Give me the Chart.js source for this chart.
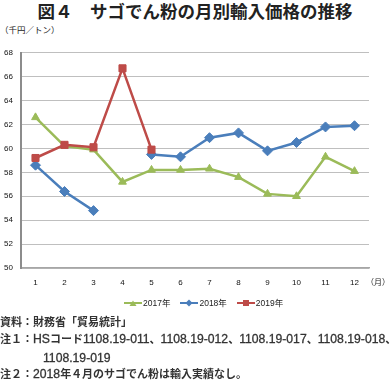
<!DOCTYPE html>
<html>
<head>
<meta charset="utf-8">
<script src="https://cdn.jsdelivr.net/npm/chart.js@4"></script>
<style>
  html, body { margin: 0; padding: 0; background: #fff; }
  body { width: 390px; height: 384px; position: relative; overflow: hidden;
         font-family: "Noto Sans CJK JP", "Noto Sans", sans-serif; color: #222; }
  #title { position: absolute; left: 0; top: 0; width: 390px; text-align: center;
           font-size: 17.5px; font-weight: bold; line-height: 21px; white-space: nowrap; }
  #unit { position: absolute; left: 0; top: 23px; font-size: 8.5px; line-height: 12px; }
  #month { position: absolute; left: 366px; top: 276px; font-size: 8px; line-height: 12px; white-space: nowrap; }
  #chart { position: absolute; left: 0; top: 40px; }
  #legend { position: absolute; left: 124px; top: 297px; display: flex; gap: 10px;
            font-family: "Liberation Sans", "Noto Sans CJK JP", sans-serif; font-size: 8.5px; line-height: 12px; }
  #legend span { display: flex; align-items: center; }
  #legend svg { margin-right: 1px; }
  .note { position: absolute; left: 0; font-family: "Liberation Sans", "Noto Sans CJK JP", sans-serif;
          font-size: 11px; line-height: 14px; white-space: nowrap; font-weight: bold; color: #333; }
  .note .lat { font-size: 12.2px; font-weight: normal; -webkit-text-stroke: 0.3px #333; }
</style>
</head>
<body>
<div id="title">図４　サゴでん粉の月別輸入価格の推移</div>
<div id="unit">（千円／トン）</div>
<canvas id="chart" width="390" height="252"></canvas>
<div id="month">（月）</div>
<div id="legend"></div>
<div class="note" style="top:315px">資料：財務省「貿易統計」</div>
<div class="note" style="top:332px">注１：<span class="lat">HS</span>コード<span class="lat">1108.19-011</span>、<span class="lat">1108.19-012</span>、<span class="lat">1108.19-017</span>、<span class="lat">1108.19-018</span>、</div>
<div class="note" style="top:351px;left:43px"><span class="lat">1108.19-019</span></div>
<div class="note" style="top:367px">注２：<span class="lat">2018</span>年４月のサゴでん粉は輸入実績なし。</div>

<script>
const months = ['1', '2', '3', '4', '5', '6', '7', '8', '9', '10', '11', '12'];
const price2017 = [62.6, 60.2, 59.9, 57.2, 58.2, 58.2, 58.3, 57.6, 56.2, 56.0, 59.3, 58.1];
const price2018 = [58.6, 56.4, 54.8, null, 59.5, 59.3, 60.9, 61.3, 59.8, 60.5, 61.8, 61.9];
const price2019 = [59.2, 60.3, 60.1, 66.7, 59.9, null, null, null, null, null, null, null];

const green = '#9bbb59';
const blue = '#4a7ebb';
const red = '#be4b48';

let series = [
   { label: '2017年', data: price2017, color: green, style: 'triangle', r: 4.5, order: 2 },
   { label: '2018年', data: price2018, color: blue, style: 'rectRot', r: 5, order: 1 },
   { label: '2019年', data: price2019, color: red, style: 'rect', r: 5, order: 0 }
];

let chartData = {
   labels: months,
   datasets: series.map(s => ({
      label: s.label,
      data: s.data,
      borderColor: s.color,
      backgroundColor: s.color,
      borderWidth: 2.5,
      pointStyle: s.style,
      pointRadius: s.r,
      pointBorderWidth: 1,
      spanGaps: false,
      order: s.order
   }))
};

let chartOptions = {
   responsive: false,
   devicePixelRatio: 1,
   animation: false,
   layout: { padding: { top: 9, right: 21, left: 0, bottom: 0 } },
   plugins: {
      legend: { display: false },
      tooltip: { enabled: false }
   },
   scales: {
      x: {
         offset: true,
         grid: { display: false, drawTicks: false },
         border: { color: '#a6a6a6', width: 1.5 },
         ticks: { padding: 10, color: '#111', font: { family: 'Liberation Sans', size: 8 } },
         afterFit: scale => { scale.height = 24; }
      },
      y: {
         min: 50,
         max: 68,
         ticks: { stepSize: 2, padding: 8, color: '#111', font: { family: 'Liberation Sans', size: 8 } },
         grid: { color: '#bfbfbf', lineWidth: 1, drawTicks: false },
         border: { color: '#8c8c8c', width: 2 },
         afterFit: scale => { scale.width = 21; }
      }
   }
};

let priceChart = new Chart(document.getElementById('chart'), {
   type: 'line',
   data: chartData,
   options: chartOptions
});

// legend: line with marker, like the original
const icons = {
   triangle: c => `<polygon points="9,2.5 12.5,8 5.5,8" fill="${c}"/>`,
   rectRot: c => `<polygon points="9,1.5 12.5,5 9,8.5 5.5,5" fill="${c}"/>`,
   rect: c => `<rect x="6" y="2" width="6" height="6" fill="${c}"/>`
};
document.getElementById('legend').innerHTML = series.map(s =>
   `<span><svg width="18" height="10"><line x1="0" y1="5" x2="18" y2="5" stroke="${s.color}" stroke-width="2"/>${icons[s.style](s.color)}</svg>${s.label}</span>`
).join('');
</script>
</body>
</html>
